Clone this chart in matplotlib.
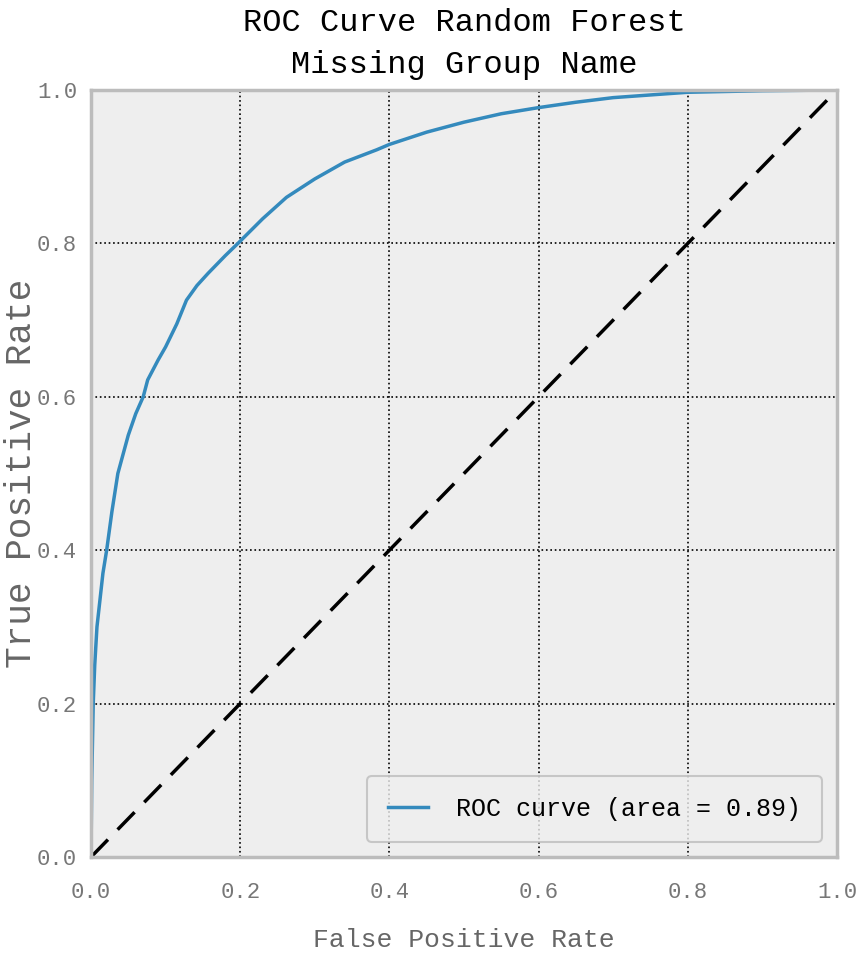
import matplotlib
matplotlib.use('Agg')
import matplotlib.pyplot as plt

# ROC curve points
fpr = [0.0, 0.001, 0.003, 0.005, 0.008, 0.012, 0.016, 0.021, 0.028, 0.036,
       0.05, 0.06, 0.07, 0.076, 0.09, 0.1, 0.115, 0.128, 0.142, 0.157,
       0.18, 0.197, 0.23, 0.262, 0.3, 0.34, 0.383, 0.4, 0.45, 0.5,
       0.55, 0.6, 0.65, 0.7, 0.8, 0.9, 1.0]
tpr = [0.0, 0.1, 0.2, 0.25, 0.3, 0.335, 0.37, 0.4, 0.45, 0.5,
       0.55, 0.578, 0.6, 0.622, 0.648, 0.665, 0.695, 0.726, 0.745, 0.761,
       0.784, 0.8, 0.832, 0.86, 0.884, 0.906, 0.922, 0.929, 0.945, 0.958,
       0.969, 0.977, 0.984, 0.99, 0.997, 0.999, 1.0]
roc_auc = 0.89
ticks = [0.0, 0.2, 0.4, 0.6, 0.8, 1.0]

plt.rcParams['font.family'] = ['Liberation Mono', 'DejaVu Sans Mono']

fig = plt.figure(figsize=(8.56, 9.55), dpi=100)
ax = fig.add_axes([0.1063, 0.1026, 0.8715, 0.8032])
ax.set_facecolor('#eeeeee')
for s in ax.spines.values():
    s.set_color('#bcbcbc')
    s.set_linewidth(2.5)

ax.plot(fpr, tpr, color='#348ABD', linewidth=2.5,
        label='ROC curve (area = %0.2f)' % roc_auc)
ax.plot([0, 1], [0, 1], 'k--', linewidth=2.5, dashes=(7, 4))

ax.set_xlim(0.0, 1.0)
ax.set_ylim(0.0, 1.0)
ax.set_xticks(ticks)
ax.set_yticks(ticks)
ax.grid(True, color='black', linestyle=':', linewidth=1.2)
ax.tick_params(length=0, labelsize=16, labelcolor='#777777')
ax.tick_params(axis='x', pad=18)
ax.tick_params(axis='y', pad=10)

ax.set_xlabel('False Positive Rate', fontsize=19, color='#666666', labelpad=18)
ax.set_ylabel('True Positive Rate', fontsize=26, color='#666666', va='center')
ax.yaxis.set_label_coords(-0.093, 0.5)
ax.set_title('ROC Curve Random Forest\nMissing Group Name', fontsize=23,
             linespacing=1.55, pad=12)

leg = ax.legend(loc='lower right', fontsize=18, handlelength=1.6,
                handletextpad=1.1, borderpad=0.85, fancybox=True,
                borderaxespad=0.6)
leg.get_frame().set_facecolor('#eeeeee')
leg.get_frame().set_edgecolor('#bcbcbc')
leg.get_frame().set_linewidth(1.5)

plt.savefig('out.png', dpi=100)
